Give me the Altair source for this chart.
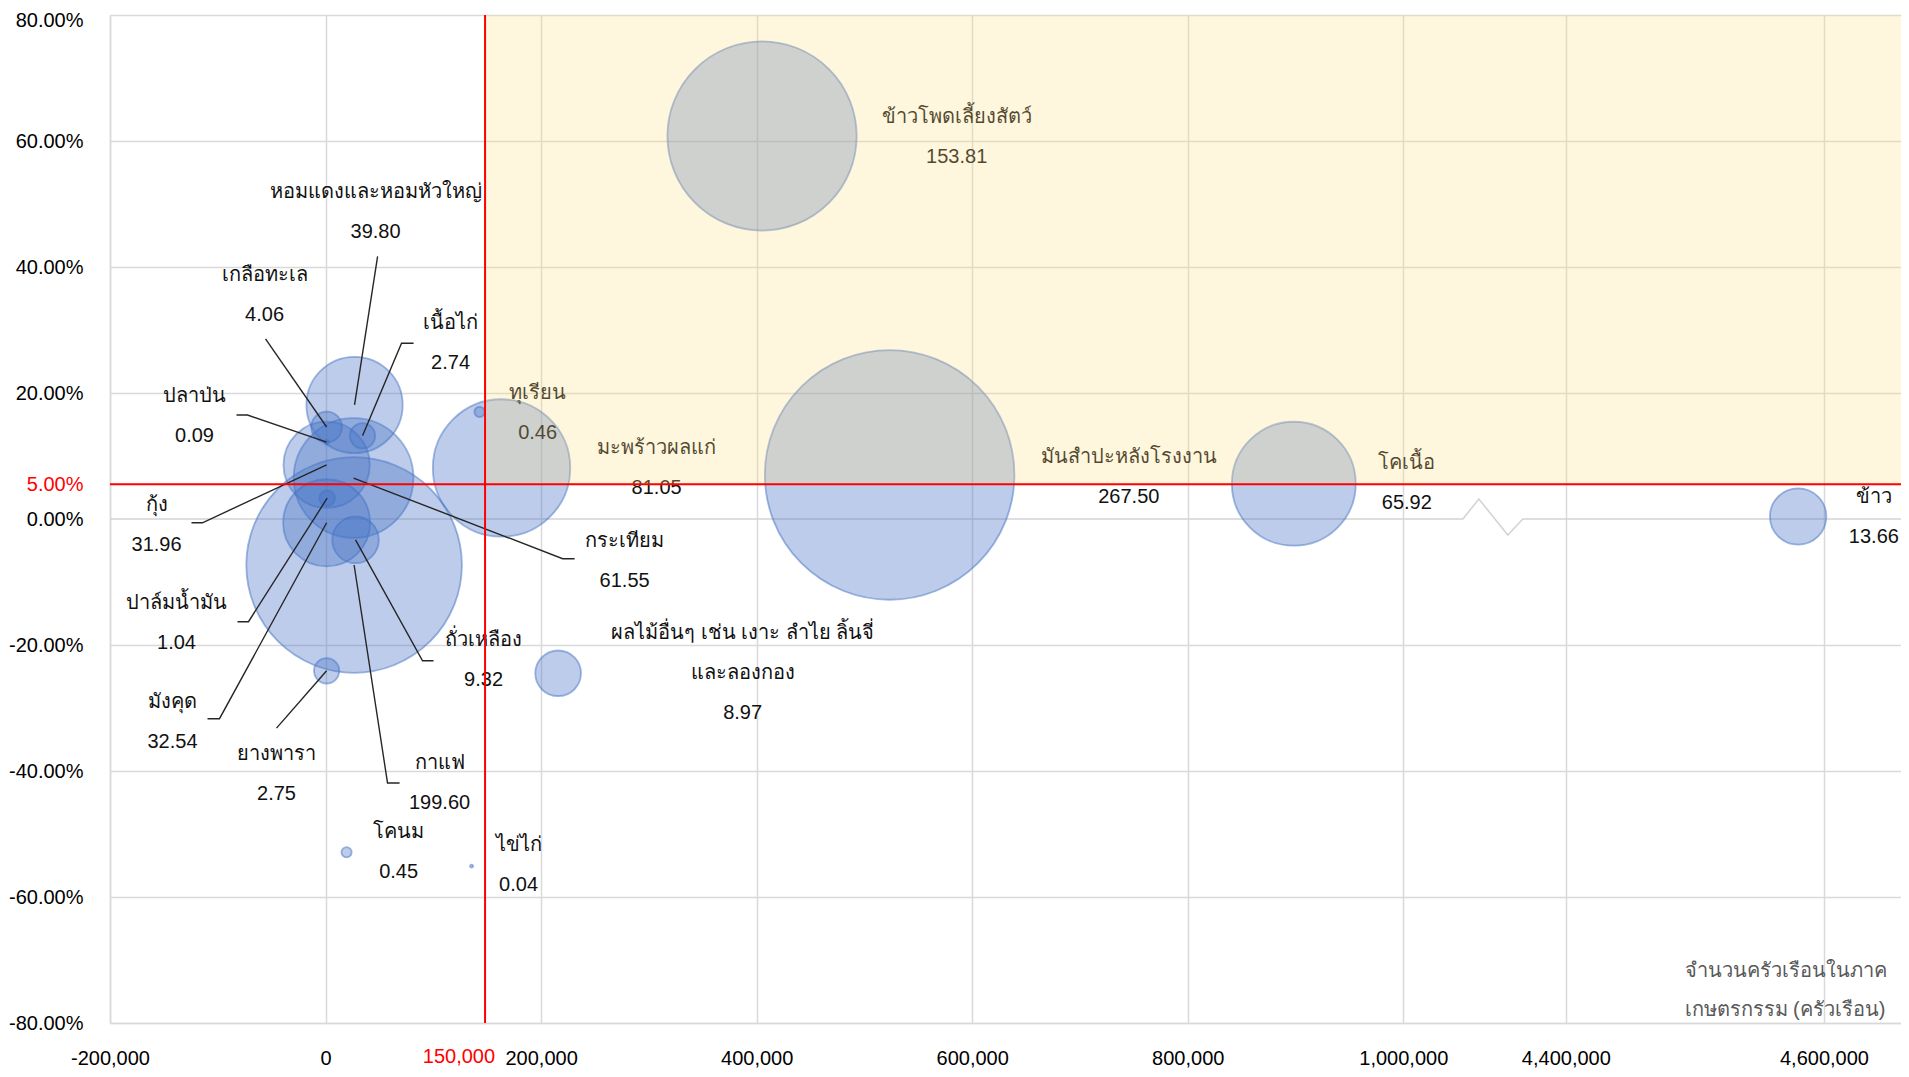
import altair as alt
import pandas as pd

FONT = "Liberation Sans"

# ---------------- data ----------------
names = ["ข้าวโพดเลี้ยงสัตว์", "มันสำปะหลังโรงงาน", "โคเนื้อ", "ข้าว", "มะพร้าวผลแก่", "ทุเรียน",
         "ผลไม้อื่นๆ เช่น เงาะ ลำไย ลิ้นจี่\nและลองกอง", "กาแฟ", "หอมแดงและหอมหัวใหญ่", "เนื้อไก่",
         "เกลือทะเล", "ปลาป่น", "กุ้ง", "กระเทียม", "ปาล์มน้ำมัน", "มังคุด", "ถั่วเหลือง", "ยางพารา",
         "โคนม", "ไข่ไก่"]
households = [405000, 523400, 898400, 4580000, 163300, 142900, 215800, 26500, 26900, 34300,
              1000, 1000, 1000, 26000, 1500, 1000, 27800, 1000, 19500, 135500]
change_pct = [60.8, 7.0, 5.6, 0.4, 8.1, 17.0, -24.5, -7.3, 18.1, 13.2,
              14.6, 12.2, 8.6, 6.5, 3.3, -0.6, -3.3, -24.1, -52.9, -55.1]
bubble_value = [153.81, 267.50, 65.92, 13.66, 81.05, 0.46, 8.97, 199.60, 39.80, 2.74,
                4.06, 0.09, 31.96, 61.55, 1.04, 32.54, 9.32, 2.75, 0.45, 0.04]

# label anchor (first line centre), in data units
label_x = [585600, 745300, 1003300, 4638700, 307200, 196800, 387000, 105800, 46400, 116000,
           -56600, -121600, -156800, 277500, -138300, -142000, 146600, -45500, 67800, 179100]
label_y = [63.8, 9.8, 8.9, 3.5, 11.3, 20.0, -18.1, -38.7, 51.9, 31.1,
           38.7, 19.5, 2.2, -3.5, -13.3, -29.0, -19.2, -37.3, -49.7, -51.7]

# leader lines: outer end, optional elbow, then the bubble centre
leader_names = ["หอมแดงและหอมหัวใหญ่", "เกลือทะเล", "เนื้อไก่", "ปลาป่น", "กุ้ง", "ปาล์มน้ำมัน",
                "มังคุด", "ยางพารา", "กาแฟ", "ถั่วเหลือง", "กระเทียม"]
leader_x1 = [48300, -55700, 81700, -82600, -124400, -81700, -109500, -45500, 68700, 100200, 231100]
leader_y1 = [41.7, 28.6, 27.9, 16.5, -0.6, -16.3, -31.7, -33.2, -41.9, -22.5, -6.3]
leader_x2 = [None, None, 70500, -72400, -114200, -71500, -98400, None, 57500, 90000, 220000]
leader_y2 = [None, None, 27.9, 16.5, -0.6, -16.3, -31.7, None, -41.9, -22.5, -6.3]

x_tick_values = [-200000, 0, 200000, 400000, 600000, 800000, 1000000, 4400000, 4600000]
x_tick_labels = ["-200,000", "0", "200,000", "400,000", "600,000", "800,000", "1,000,000",
                 "4,400,000", "4,600,000"]
y_tick_values = [-80, -60, -40, -20, 0, 20, 40, 60, 80]
y_tick_labels = ["-80.00%", "-60.00%", "-40.00%", "-20.00%", "0.00%", "20.00%", "40.00%",
                 "60.00%", "80.00%"]
threshold_x = 148000      # red vertical line (labelled 150,000)
threshold_x_label = "150,000"
threshold_y = 5.5         # red horizontal line (labelled 5.00%)
threshold_y_label = "5.00%"
x_title = ["จำนวนครัวเรือนในภาค", "เกษตรกรรม (ครัวเรือน)"]


# broken x axis: 1,000,000 -> 4,400,000 is collapsed
def axis_pos(x):
    if x < 2_000_000:
        return x
    return 1_150_800 + (x - 4_400_000) * 1.1975


X_MIN, X_MAX = -200000, 1461800
Y_MIN, Y_MAX = -80, 80

bub = pd.DataFrame({
    "name": names,
    "t": [axis_pos(v) for v in households],
    "pct": change_pct,
    "value": bubble_value,
    "lx": [axis_pos(v) for v in label_x],
    "ly": label_y,
})
bub["label"] = [f"{n}\n{v:.2f}" for n, v in zip(names, bubble_value)]
bub = bub.sort_values("value", ascending=False)

centre = {n: (axis_pos(h), p) for n, h, p in zip(names, households, change_pct)}
rows = []
for n, x1, y1, x2, y2 in zip(leader_names, leader_x1, leader_y1, leader_x2, leader_y2):
    pts = [(x1, y1)]
    if x2 is not None:
        pts.append((x2, y2))
    pts.append(centre[n])
    for i, (px, py) in enumerate(pts):
        rows.append({"id": n, "seq": i, "t": px, "pct": py})
lead = pd.DataFrame(rows)

# zero line with the axis-break zigzag
zero = pd.DataFrame({
    "seq": [0, 1, 2, 3, 4, 5],
    "t": [X_MIN, 1055300, 1070100, 1097000, 1110900, X_MAX],
    "pct": [0, 0, 3.17, -2.54, 0, 0],
})

zone = pd.DataFrame({"t": [threshold_x], "t2": [X_MAX], "pct": [threshold_y], "pct2": [Y_MAX]})
vrule = pd.DataFrame({"t": [threshold_x], "pct": [Y_MIN], "pct2": [Y_MAX]})
hrule = pd.DataFrame({"t": [X_MIN], "t2": [X_MAX], "pct": [threshold_y]})
xlab = pd.DataFrame({"t": [threshold_x], "pct": [Y_MIN], "txt": [threshold_x_label]})

# ---------------- axes ----------------
x_pos = [round(axis_pos(v)) for v in x_tick_values]
x_expr = "''"
for p, lab in zip(x_pos, x_tick_labels):
    x_expr = f"datum.value == {p} ? '{lab}' : ({x_expr})"
y_expr = f"'{threshold_y_label}'"
for v, lab in zip(y_tick_values, y_tick_labels):
    y_expr = f"datum.value == {v} ? '{lab}' : ({y_expr})"

x_axis = alt.Axis(
    values=x_pos, labelExpr=x_expr, title=x_title,
    titleX=1574, titleY=-53, titleAlign="left", titleAnchor="start", titleBaseline="middle",
    titleFontSize=20, titleFontWeight="normal", titleColor="#595959", titleFont=FONT,
    titleLineHeight=39,
    labelFont=FONT, labelFontSize=20, labelColor="#000000", labelPadding=25,
    ticks=False, tickSize=0, domainColor="#D9D9D9", domainWidth=1.5,
    gridColor="#D9D9D9", gridWidth=1.5, labelFlush=False, labelOverlap=False, labelBound=False,
)
y_axis = alt.Axis(
    values=y_tick_values + [threshold_y],
    labelExpr=y_expr,
    labelColor=alt.condition(f"datum.value == {threshold_y}", alt.value("#FF0000"), alt.value("#000000")),
    labelOffset=alt.condition(f"datum.value == {Y_MAX}", alt.value(5), alt.value(0)),
    gridColor=alt.condition(f"datum.value == 0 || datum.value == {threshold_y}",
                            alt.value("transparent"), alt.value("#D9D9D9")),
    gridWidth=1.5, title=None,
    labelFont=FONT, labelFontSize=20, labelPadding=27, ticks=False, tickSize=0,
    domainColor="#D9D9D9", domainWidth=1.5, labelOverlap=False, labelFlush=False, labelBound=False,
)
xs = alt.Scale(domain=[X_MIN, X_MAX], nice=False, zero=False)
ys = alt.Scale(domain=[Y_MIN, Y_MAX], nice=False, zero=False)


def X(f="t"):
    return alt.X(f"{f}:Q", scale=xs, axis=x_axis)


def Y(f="pct"):
    return alt.Y(f"{f}:Q", scale=ys, axis=y_axis)


zero_line = alt.Chart(zero).mark_line(color="#D4D4D4", strokeWidth=1.6).encode(
    x=X(), y=Y(), order="seq:Q")

bubbles = alt.Chart(bub).mark_circle(
    fill="#4472C4", fillOpacity=0.36, stroke="#4472C4", strokeOpacity=0.5, strokeWidth=1.8, opacity=1
).encode(
    x=X(), y=Y(),
    size=alt.Size("value:Q", scale=alt.Scale(domain=[0, 267.5], range=[0, 62300]), legend=None),
    order=alt.Order("value:Q", sort="descending"),
)

leaders = alt.Chart(lead).mark_line(color="#262626", strokeWidth=1.4).encode(
    x=X(), y=Y(), detail="id:N", order="seq:Q")

labels = alt.Chart(bub).mark_text(
    font=FONT, fontSize=20, color="#111111", align="center", baseline="middle",
    lineBreak="\n", lineHeight=40,
).encode(x=X("lx"), y=Y("ly"), text="label:N")

overlay = alt.Chart(zone).mark_rect(color="#FFDE85", opacity=0.27).encode(
    x=X(), x2="t2:Q", y=Y(), y2="pct2:Q")

v_red = alt.Chart(vrule).mark_rule(color="#FF0000", strokeWidth=2).encode(
    x=X(), y=Y(), y2="pct2:Q")
h_red = alt.Chart(hrule).mark_rule(color="#FF0000", strokeWidth=2).encode(
    x=X(), x2="t2:Q", y=Y())
x_red_label = alt.Chart(xlab).mark_text(
    font=FONT, fontSize=20, color="#FF0000", align="right", baseline="middle", dx=10, dy=34
).encode(x=X(), y=Y(), text="txt:N")

chart = alt.layer(
    zero_line, bubbles, leaders, labels, overlay, v_red, h_red, x_red_label
).properties(
    width=1791, height=1008,
    autosize=alt.AutoSizeParams(type="none"),
    padding={"left": 102, "top": 7, "right": 0, "bottom": 46},
    background="white",
).configure_view(stroke=None)

chart.save("out.html", embed_options={"renderer": "svg", "actions": False})
